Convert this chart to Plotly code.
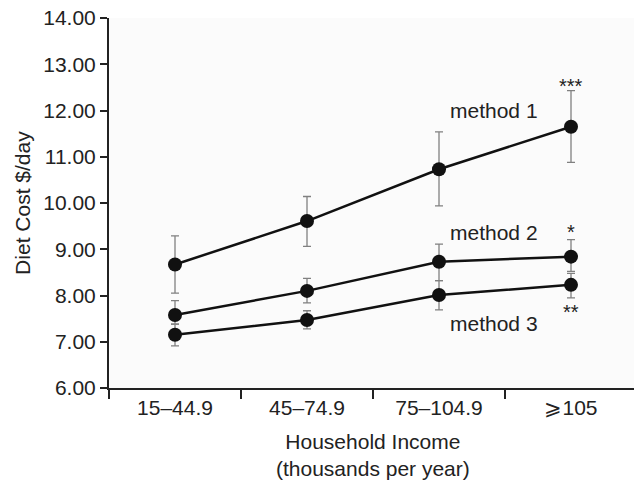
import plotly.graph_objects as go

categories = ["15–44.9", "45–74.9", "75–104.9", "⩾105"]

m1 = [8.67, 9.61, 10.73, 11.65]
m1_hi = [9.29, 10.14, 11.54, 12.43]
m1_lo = [8.05, 9.06, 9.94, 10.88]

m2 = [7.58, 8.10, 8.73, 8.84]
m2_hi = [7.89, 8.37, 9.11, 9.21]
m2_lo = [7.38, 7.84, 8.32, 8.52]

m3 = [7.15, 7.47, 8.01, 8.23]
m3_hi = [7.38, 7.67, 8.32, 8.48]
m3_lo = [6.91, 7.28, 7.69, 7.95]

series = [("method 1", m1, m1_hi, m1_lo),
          ("method 2", m2, m2_hi, m2_lo),
          ("method 3", m3, m3_hi, m3_lo)]

FONT = "Liberation Sans, Arial, Helvetica, sans-serif"
FS = 21
TXT = "#222222"

fig = go.Figure()
for name, v, hi, lo in series:
    fig.add_trace(go.Scatter(
        x=categories, y=v, mode="lines+markers", name=name,
        line=dict(color="#111111", width=2.5),
        marker=dict(color="#111111", size=14),
        error_y=dict(type="data", symmetric=False,
                     array=[h - a for h, a in zip(hi, v)],
                     arrayminus=[a - l for l, a in zip(lo, v)],
                     color="#808080", thickness=1.3, width=4),
    ))

labels = [("method 1", 2.42, 12.0), ("method 2", 2.42, 9.36), ("method 3", 2.42, 7.40),
          ("***", 3, 12.52), ("*", 3, 9.38), ("**", 3, 7.64)]
for t, x, y in labels:
    fig.add_annotation(x=x, y=y, xref="x", yref="y", text=t, showarrow=False,
                       xanchor="center", yanchor="middle",
                       font=dict(family=FONT, size=FS if "method" in t else 20, color=TXT))

fig.add_annotation(x=-0.165, y=0.5, xref="paper", yref="paper", text="Diet Cost $/day",
                   textangle=-90, showarrow=False, xanchor="center", yanchor="middle",
                   font=dict(family=FONT, size=FS, color=TXT))
fig.add_annotation(x=0.5, y=-0.108, xref="paper", yref="paper",
                   text="Household Income<br>(thousands per year)", showarrow=False,
                   xanchor="center", yanchor="top",
                   font=dict(family=FONT, size=FS, color=TXT))

fig.update_layout(
    width=634, height=473,
    margin=dict(l=101, r=5, t=10, b=93),
    paper_bgcolor="white", plot_bgcolor="#fbfbfb",
    showlegend=False,
    font=dict(family=FONT, size=FS, color=TXT),
)
fig.update_xaxes(type="category", range=[-0.5, 3.5], tickson="boundaries",
                 ticks="outside", ticklen=9, tickwidth=2, tickcolor="#222",
                 showline=True, linewidth=2, linecolor="#222",
                 showgrid=False, zeroline=False, automargin=False,
                 tickfont=dict(family=FONT, size=FS, color=TXT))
fig.update_yaxes(range=[6, 14], dtick=1, tick0=6, tickformat=".2f",
                 ticks="outside", ticklen=7, tickwidth=2, tickcolor="#222",
                 showline=True, linewidth=2, linecolor="#222",
                 showgrid=False, zeroline=False, automargin=False,
                 ticklabeloverflow="allow",
                 tickfont=dict(family=FONT, size=FS, color=TXT))

fig.write_html("out.html")
